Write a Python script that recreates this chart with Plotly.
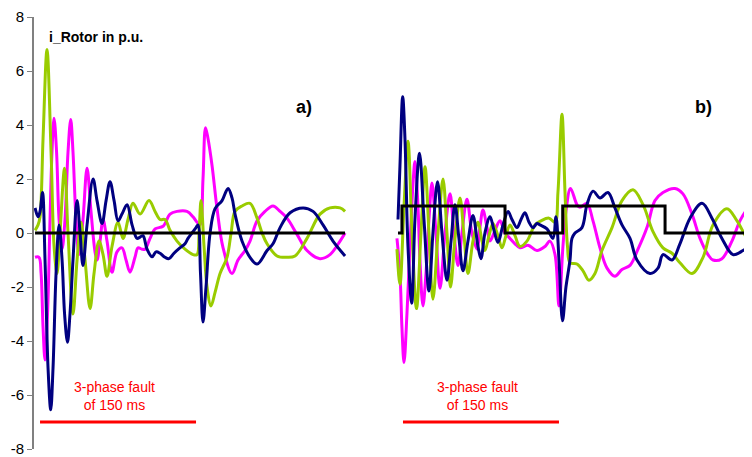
import plotly.graph_objects as go

# ---------------- data (time in ms after fault inception, current in p.u.) ----------------
# Panel a)
A_GREEN_T = [-4.8, -1.9, 0, 2.9, 6.7, 10.6, 13.5, 16.3, 19.2, 23.6,
             26.9, 31.7, 35.6, 39.4, 43.3, 48.1, 51.9, 56.7, 60.6, 64.4,
             69.2, 75.0, 79.8, 84.6, 89.4, 96.2, 104.8, 110.6, 115.4, 120.2,
             125.0, 131.7, 139.4, 147.1, 151.0, 152.9, 154.8, 157.7, 160.6, 164.4,
             168.3, 173.1, 179.8, 183.7, 187.5, 194.2, 201.9, 208.7, 213.5, 218.3,
             227.9, 237.5, 245.2, 256.7, 269.2, 278.8, 288.5, 293.3]
A_GREEN_I = [0.1, 0.3, 0.6, 3.5, 6.8, 3.0, -0.5, -1.5, 0.0, 2.4,
             0.0, -3.0, -1.0, 0.4, -1.0, -2.8, -1.5, -0.3, -0.8, -1.6,
             -0.5, 0.4, -0.2, 0.5, 1.1, 0.7, 1.2, 0.8, 0.5, 0.5,
             0.1, -0.3, -0.6, -0.8, -0.8, 0.0, 1.2, -0.5, -2.0, -2.7,
             -2.2, -1.5, -0.9, 0.0, 0.8, 1.0, 1.1, 0.55, 0.0, -0.4,
             -0.85, -0.9, -0.85, -0.2, 0.7, 0.93, 0.93, 0.8]

A_PINK_T = [-4.8, -1.0, 1.0, 2.9, 4.8, 7.2, 9.6, 11.5, 13.5, 15.9,
            18.3, 21.2, 24.0, 26.9, 29.5, 31.7, 34.6, 37.5, 41.3, 45.2,
            49.0, 52.9, 54.8, 57.7, 60.6, 64.4, 69.2, 74.0, 78.8, 82.7,
            86.5, 91.3, 94.2, 98.1, 101.0, 105.8, 110.6, 118.3, 125.0, 131.7,
            141.3, 147.1, 151.0, 153.8, 156.7, 159.1, 161.5, 165.4, 170.2, 176.0,
            184.6, 190.4, 197.1, 201.9, 208.7, 216.3, 224.0, 230.8, 237.5, 247.1,
            256.7, 269.2, 278.8, 288.5, 293.3]
A_PINK_I = [-0.9, -0.9, -1.5, -3.5, -4.7, -3.0, 0.5, 3.0, 4.25, 3.0,
            0.5, -0.6, 0.5, 3.0, 4.2, 3.0, 0.5, -0.8, 0.5, 2.4,
            0.8, -0.7, -1.0, -0.3, 0.5, -0.3, -1.45, -0.7, -0.55, -1.0,
            -1.45, -0.9, -0.55, -0.6, -0.6, -0.2, 0.15, 0.25, 0.7, 0.8,
            0.8, 0.6, 0.4, 0.3, 2.0, 3.9, 3.5, 2.5, 0.9, -0.55,
            -1.5, -1.0, -0.65, -0.3, 0.45, 0.8, 1.0, 0.8, 0.55, -0.05,
            -0.65, -0.95, -0.8, -0.3, 0.0]

A_NAVY_T = [-4.8, -1.9, 0, 2.4, 4.8, 7.7, 10.3, 12.5, 15.4, 18.3,
            21.2, 23.6, 26.4, 28.8, 31.7, 35.6, 38.5, 41.3, 45.2, 51.0,
            54.8, 59.6, 63.5, 67.3, 71.2, 75.0, 78.8, 83.7, 88.5, 93.3,
            96.2, 99.0, 102.9, 107.7, 111.5, 115.4, 120.2, 124.0, 128.8, 134.6,
            139.4, 142.3, 146.1, 150.0, 151.9, 154.3, 156.7, 159.6, 163.5, 168.3,
            175.0, 180.8, 184.6, 187.5, 194.2, 201.9, 208.7, 218.3, 224.0, 230.8,
            240.4, 252.9, 262.5, 272.1, 281.7, 293.3]
A_NAVY_I = [0.93, 0.6, 0.8, 1.5, -1.0, -5.0, -6.55, -5.0, -1.5, 0.3,
            -1.0, -3.0, -4.05, -3.0, -1.0, 1.2, 0.0, -1.2, 0.3, 2.0,
            1.2, 0.35, 1.2, 1.9, 1.2, 0.45, 0.7, 1.05, 0.3, -0.2,
            -0.15, -0.1, -0.6, -0.88, -0.7, -0.75, -0.9, -0.95, -0.75, -0.55,
            -0.4, -0.2, 0.0, 0.2, 0.3, -1.5, -3.3, -2.0, 0.0, 0.9,
            1.2, 1.65, 1.3, 0.7, -0.3, -0.9, -1.15, -0.65, -0.4, 0.2,
            0.75, 0.93, 0.8, 0.3, -0.3, -0.85]

A_BLACK_T = [-4.8, 293.3]
A_BLACK_I = [0, 0]

# Panel b)
B_NAVY_T = [-4.8, -2.9, -0.3, 1.9, 4.8, 8.4, 11.5, 15.9, 20.2, 25.0,
            28.8, 33.2, 37.5, 42.3, 46.2, 50.0, 53.8, 57.7, 62.5, 67.3,
            72.1, 75.0, 78.8, 83.7, 87.5, 91.3, 96.2, 101.0, 104.8, 109.6,
            113.5, 117.3, 121.2, 125.0, 128.8, 131.7, 138.5, 144.2, 147.1, 150.0,
            153.4, 156.7, 160.6, 162.5, 165.4, 172.1, 176.9, 182.7, 189.4, 197.1,
            203.8, 210.6, 218.3, 225.0, 237.5, 245.2, 250.0, 258.7, 266.3, 276.0,
            287.5, 297.1, 306.7, 317.3, 326.9, 335.6]
B_NAVY_I = [0.5, 2.5, 5.05, 3.5, -0.5, -2.6, 0.5, 2.95, 0.5, -2.15,
            0.0, 1.9, 0.0, -1.75, -0.3, 1.05, -0.2, -1.4, -0.3, 0.65,
            -0.5, -0.95, 0.0, 0.6, 0.1, -0.35, 0.3, 0.8, 0.5, 0.2,
            0.5, 0.75, 0.4, 0.2, 0.35, 0.3, 0.15, -0.2, 0.6, -1.0,
            -3.25, -2.0, -1.0, -0.2, 0.0, 0.2, 1.05, 1.55, 1.3, 1.5,
            0.93, 0.3, -0.2, -1.0, -1.5, -1.3, -0.8, -1.0, -0.4, 0.55,
            1.1, 0.55, -0.2, -0.8, -0.65, -0.4]

B_GREEN_T = [-5.8, -2.9, 1.0, 4.8, 8.7, 13.0, 17.3, 21.2, 25.0, 28.8,
             33.7, 38.5, 42.3, 45.7, 50.0, 54.8, 58.7, 62.5, 67.3, 72.1,
             76.0, 78.8, 82.7, 86.5, 91.3, 95.2, 99.0, 102.9, 107.7, 112.5,
             119.2, 126.9, 132.7, 140.4, 146.2, 149.0, 152.9, 155.8, 158.2, 160.6,
             167.3, 173.1, 178.8, 184.6, 191.3, 201.0, 210.6, 221.2, 230.8, 240.4,
             250.0, 258.7, 266.3, 277.9, 288.5, 298.1, 311.5, 321.2, 330.8, 335.6]
B_GREEN_I = [-0.6, -1.9, 1.0, 3.4, 0.0, -2.8, 0.0, 2.45, 0.0, -2.45,
             0.0, 2.0, 0.0, -2.0, -0.2, 1.3, -0.1, -1.5, -0.3, 0.4,
             -0.3, -0.65, -0.1, 0.35, -0.1, -0.55, -0.1, 0.3, -0.1, -0.5,
             -0.3, 0.3, 0.45, 0.55, 0.4, 1.5, 4.4, 1.5, -0.5, -1.1,
             -1.15, -1.4, -1.75, -1.5, -0.65, 0.2, 1.2, 1.6, 1.05, 0.05,
             -0.55, -0.75, -1.1, -1.5, -0.9, 0.3, 0.9, 0.45, -0.2, -0.4]

B_PINK_T = [-5.8, -2.9, -1.0, 1.0, 3.8, 6.7, 9.6, 11.5, 14.4, 16.3,
            19.2, 22.1, 25.0, 27.9, 31.7, 35.6, 40.4, 45.2, 49.0, 52.9,
            56.7, 61.5, 66.3, 71.2, 74.0, 76.9, 80.8, 83.7, 88.5, 93.3,
            98.1, 102.9, 107.7, 112.5, 120.2, 128.8, 136.5, 141.3, 146.2, 150.0,
            153.8, 156.7, 161.1, 167.3, 170.2, 176.9, 182.7, 189.4, 196.2, 203.8,
            210.6, 218.3, 226.0, 234.6, 242.3, 250.0, 261.5, 269.2, 277.9, 285.6,
            293.3, 298.1, 306.7, 316.3, 324.0, 331.7, 335.6]
B_PINK_I = [-0.2, -1.5, -3.5, -4.8, -3.0, -0.5, 1.8, 2.65, 1.0, -1.0,
            -2.7, -1.5, 0.5, 1.85, 0.0, -2.05, 0.0, 1.45, 0.0, -1.2,
            0.0, 1.25, 0.0, -0.6, 0.2, 0.85, 0.2, -0.3, 0.1, 0.45,
            0.0, -0.2, -0.4, -0.55, -0.45, -0.65, -0.5, -0.3, -0.8, -2.7,
            -0.5, 0.8, 1.65, 1.05, 0.95, 1.1, 0.45, -0.55, -1.3, -1.6,
            -1.35, -1.2, -0.6, 0.2, 1.2, 1.5, 1.65, 1.45, 0.7, -0.2,
            -0.8, -1.0, -0.95, -0.3, 0.45, 0.9, 0.95]

B_BLACK_T = [-4.8, -1.0, 98.1, 153.6, 252.0, 335.6]
B_BLACK_I = [0, 1, 0, 1, 0, 0]

FAULT_T = [0, 150]          # 3-phase fault duration (ms)
FAULT_LEVEL = [-7, -7]
Y_TICKS = [-8, -6, -4, -2, 0, 2, 4, 6, 8]
B_OFFSET = 349.0            # horizontal shift of panel b) in the shared axis

NAVY = "#000080"
PINK = "#FF00FF"
GREEN = "#99CC00"
BLACK = "#000000"
RED = "#FF0000"
FONT = "Arial, Liberation Sans, sans-serif"

fig = go.Figure()


def add_curve(t, y, color, offset=0.0, shape="spline"):
    line = dict(color=color, width=3, shape=shape)
    if shape == "spline":
        line["smoothing"] = 1.0
    fig.add_trace(go.Scatter(
        x=[v + offset for v in t], y=y, mode="lines", line=line,
        hoverinfo="skip", showlegend=False))


# panel a
add_curve(A_PINK_T, A_PINK_I, PINK)
add_curve(A_GREEN_T, A_GREEN_I, GREEN)
add_curve(A_NAVY_T, A_NAVY_I, NAVY)
add_curve(A_BLACK_T, A_BLACK_I, BLACK, shape="linear")
# panel b
add_curve(B_PINK_T, B_PINK_I, PINK, B_OFFSET)
add_curve(B_GREEN_T, B_GREEN_I, GREEN, B_OFFSET)
add_curve(B_NAVY_T, B_NAVY_I, NAVY, B_OFFSET)
add_curve(B_BLACK_T, B_BLACK_I, BLACK, B_OFFSET, shape="hv")

# fault duration bars
for off in (0.0, B_OFFSET):
    fig.add_trace(go.Scatter(
        x=[v + off for v in FAULT_T], y=FAULT_LEVEL, mode="lines",
        line=dict(color=RED, width=3), hoverinfo="skip", showlegend=False))
    fig.add_annotation(x=72 + off, y=-6.05, text="3-phase fault<br>of 150 ms",
                       showarrow=False, font=dict(family=FONT, size=14, color=RED),
                       xanchor="center", yanchor="middle", align="center")

fig.add_annotation(x=6.7, y=7.26, text="<b>i_Rotor in p.u.</b>", showarrow=False,
                   xanchor="left", yanchor="middle",
                   font=dict(family=FONT, size=14, color="#000000"))
fig.add_annotation(x=253.8, y=4.68, text="<b>a)</b>", showarrow=False,
                   xanchor="center", yanchor="middle",
                   font=dict(family=FONT, size=18, color="#000000"))
fig.add_annotation(x=638.4, y=4.68, text="<b>b)</b>", showarrow=False,
                   xanchor="center", yanchor="middle",
                   font=dict(family=FONT, size=18, color="#000000"))

# the page body adds an 8 px margin, so the figure is 8 px smaller on each axis
fig.update_layout(
    width=744, height=449,
    margin=dict(l=26, r=0, t=7, b=8, pad=0),
    paper_bgcolor="white", plot_bgcolor="white",
    showlegend=False,
    xaxis=dict(range=[-5.8, 684.6], visible=False, fixedrange=True),
    yaxis=dict(range=[-8, 8], tickvals=Y_TICKS, ticktext=[str(v) for v in Y_TICKS],
               showline=True, linecolor="#808080", linewidth=2,
               ticks="outside", ticklen=5, tickcolor="#808080", tickwidth=1,
               showgrid=False, zeroline=False, ticklabeloverflow="allow",
               tickfont=dict(family=FONT, size=15, color="#000000")),
    font=dict(family=FONT),
)

fig.write_html("out.html")
